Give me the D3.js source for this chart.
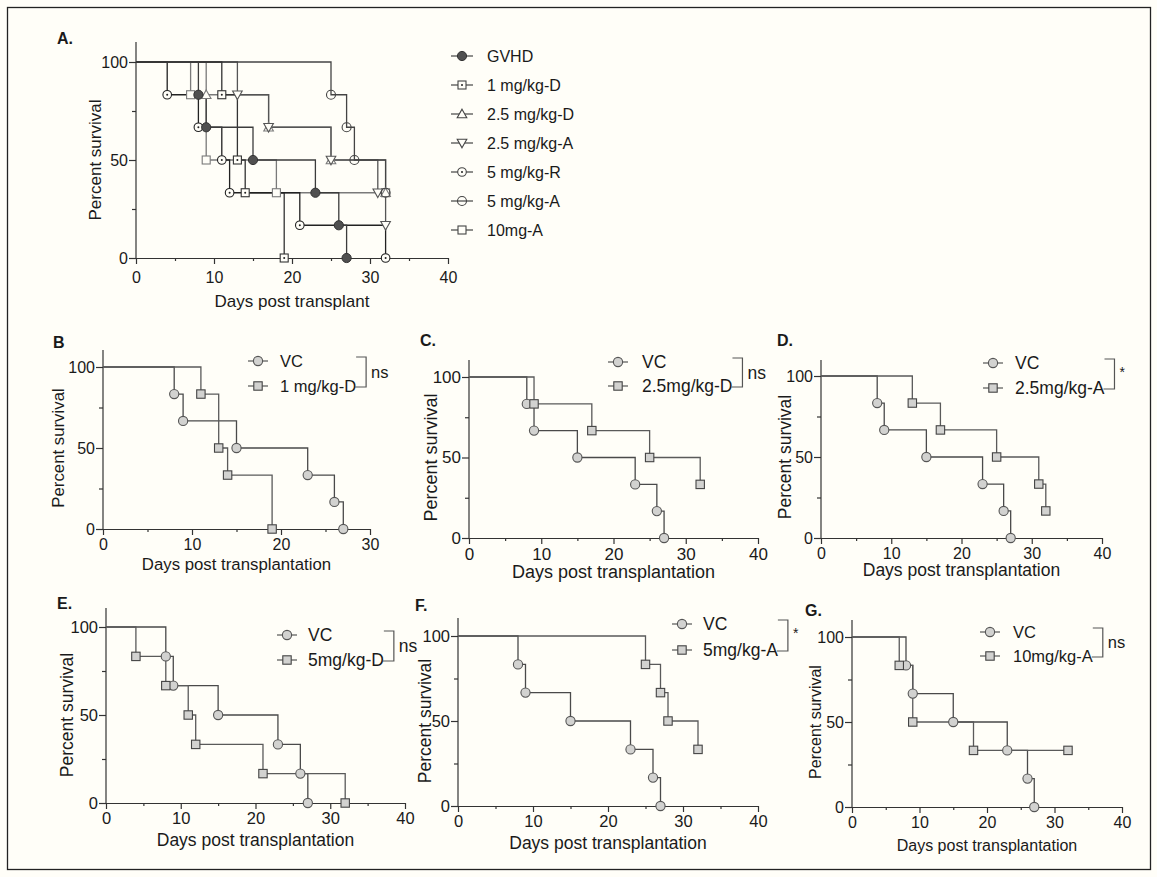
<!DOCTYPE html>
<html><head><meta charset="utf-8">
<script src="https://cdn.jsdelivr.net/npm/d3@7"></script>
<style>
html,body{margin:0;padding:0;background:#fffef8;}
svg{display:block;}
text{font-family:"Liberation Sans",Arial,sans-serif;fill:#1a1a1a;}
</style></head><body>
<svg id="fig" width="1157" height="877"></svg>
<script>
// Kaplan-Meier steps: day of each event and percent surviving after it
const vcDays  = [0, 8, 9, 15, 23, 26, 27];
const vcSurv  = [100, 83.3, 66.7, 50, 33.3, 16.7, 0];
const d1Days  = [0, 11, 13, 14, 19];
const d1Surv  = [100, 83.3, 50, 33.3, 0];
const d25Days = [0, 9, 17, 25, 32];
const d25Surv = [100, 83.3, 66.7, 50, 33.3];
const a25Days = [0, 13, 17, 25, 31, 32];
const a25Surv = [100, 83.3, 66.7, 50, 33.3, 16.7];
const d5Days  = [0, 4, 8, 11, 12, 21, 32];
const d5Surv  = [100, 83.3, 66.7, 50, 33.3, 16.7, 0];
const a5Days  = [0, 25, 27, 28, 32];
const a5Surv  = [100, 83.3, 66.7, 50, 33.3];
const a10Days = [0, 7, 9, 18, 32];
const a10Surv = [100, 83.3, 50, 33.3, 33.3];

// labels
const overviewNames = ["GVHD", "1 mg/kg-D", "2.5 mg/kg-D", "2.5 mg/kg-A", "5 mg/kg-R", "5 mg/kg-A", "10mg-A"];
const pairNames = ["1 mg/kg-D", "2.5mg/kg-D", "2.5mg/kg-A", "5mg/kg-D", "5mg/kg-A", "10mg/kg-A"];
const pairSig = ["ns", "ns", "*", "ns", "*", "ns"];
const panelLetters = ["A.", "B", "C.", "D.", "E.", "F.", "G."];
const yTicks = [0, 50, 100];
const yMinor = [25, 75];
const xTicks40 = [0, 10, 20, 30, 40];
const xTicks30 = [0, 10, 20, 30];
const xTitleA = "Days post transplant";
const xTitle = "Days post transplantation";
const yTitle = "Percent survival";

const zip = (days, surv) => days.map((d, i) => [d, surv[i]]);
const BG = "#fffef8";
const svg = d3.select("#fig");

svg.append("rect").attr("x", 7.5).attr("y", 7.5).attr("width", 1143).attr("height", 862)
  .attr("fill", "none").attr("stroke", "#222").attr("stroke-width", 1.3);

function symbol(g, type, cx, cy, col) {
  const s = 4;
  if (type === "dot") {
    g.append("circle").attr("cx", cx).attr("cy", cy).attr("r", 4.6).attr("fill", "#505050").attr("stroke", "#333").attr("stroke-width", 1);
  } else if (type === "sqDot" || type === "sqOpen") {
    g.append("rect").attr("x", cx - s).attr("y", cy - s).attr("width", 2 * s).attr("height", 2 * s)
      .attr("fill", BG).attr("stroke", col).attr("stroke-width", 1.1);
    if (type === "sqDot") g.append("circle").attr("cx", cx).attr("cy", cy).attr("r", 1).attr("fill", "#222");
  } else if (type === "triUp") {
    g.append("path").attr("d", `M${cx},${cy - 4.8}L${cx + 4.8},${cy + 3.8}L${cx - 4.8},${cy + 3.8}Z`)
      .attr("fill", BG).attr("stroke", col).attr("stroke-width", 1.1);
  } else if (type === "triDown") {
    g.append("path").attr("d", `M${cx},${cy + 4.8}L${cx + 4.8},${cy - 3.8}L${cx - 4.8},${cy - 3.8}Z`)
      .attr("fill", BG).attr("stroke", col).attr("stroke-width", 1.1);
  } else if (type === "cirDot") {
    g.append("circle").attr("cx", cx).attr("cy", cy).attr("r", 4.3).attr("fill", BG).attr("stroke", col).attr("stroke-width", 1.1);
    g.append("circle").attr("cx", cx).attr("cy", cy).attr("r", 1).attr("fill", "#222");
  } else if (type === "cirOpen") {
    g.append("circle").attr("cx", cx).attr("cy", cy).attr("r", 4.5).attr("fill", "none").attr("stroke", col).attr("stroke-width", 1.1);
  } else if (type === "cirGrey") {
    g.append("circle").attr("cx", cx).attr("cy", cy).attr("r", 4.6).attr("fill", "#d2d2d0").attr("stroke", "#555").attr("stroke-width", 1.1);
  } else if (type === "sqGrey") {
    g.append("rect").attr("x", cx - 4.2).attr("y", cy - 4.2).attr("width", 8.4).attr("height", 8.4)
      .attr("fill", "#d2d2d0").attr("stroke", "#444").attr("stroke-width", 1.1);
  }
}

function panel(c) {
  const x = d3.scaleLinear().domain([0, c.xMax]).range([c.x0, c.x1]);
  const y = d3.scaleLinear().domain([0, 100]).range([c.y0, c.y100]);
  const g = svg.append("g");
  const style = sel => {
    sel.selectAll("line,path").attr("stroke", "#333").attr("stroke-width", 1.2);
    sel.selectAll("text").attr("font-size", c.tickFs).attr("font-family", '"Liberation Sans",Arial,sans-serif').attr("fill", "#1a1a1a");
  };
  // y axis
  const ya = g.append("g").attr("transform", `translate(${c.x0},0)`)
    .call(d3.axisLeft(y).tickValues(yTicks).tickSize(7).tickPadding(1).tickFormat(d3.format("d")));
  ya.select(".domain").remove();
  style(ya);
  const ym = g.append("g").attr("transform", `translate(${c.x0},0)`)
    .call(d3.axisLeft(y).tickValues(yMinor).tickSize(4).tickFormat(""));
  ym.select(".domain").remove();
  style(ym);
  g.append("line").attr("x1", c.x0).attr("x2", c.x0).attr("y1", y(0)).attr("y2", y(100) - c.ext)
    .attr("stroke", "#333").attr("stroke-width", 1.2);
  // x axis
  const xa = g.append("g").attr("transform", `translate(0,${c.y0})`)
    .call(d3.axisBottom(x).tickValues(c.xMax === 30 ? xTicks30 : xTicks40).tickSize(6).tickSizeOuter(0).tickPadding(c.xPad).tickFormat(d3.format("d")));
  style(xa);
  const minors = d3.range(5, c.xMax, 10);
  const xm = g.append("g").attr("transform", `translate(0,${c.y0})`)
    .call(d3.axisBottom(x).tickValues(minors).tickSize(3).tickFormat(""));
  xm.select(".domain").remove();
  style(xm);
  // titles
  g.append("text").attr("x", (c.x0 + c.x1) / 2).attr("y", c.y0 + c.xTitleOff).attr("dy", "0.35em")
    .attr("text-anchor", "middle").attr("font-size", c.titleFs).text(c.xTitle);
  g.append("text").attr("transform", `translate(${c.x0 - c.yTitleOff},${y(50)}) rotate(-90)`).attr("dy", "0.35em")
    .attr("text-anchor", "middle").attr("font-size", c.titleFs).text(yTitle);
  g.append("text").attr("x", c.lx).attr("y", c.ly).attr("dy", "0.35em").attr("font-weight", "bold")
    .attr("font-size", 16).text(c.letter);
  // curves
  const line = d3.line().x(d => x(d[0])).y(d => y(d[1])).curve(d3.curveStepAfter);
  c.series.forEach(s => {
    g.append("path").attr("d", line(s.pts)).attr("fill", "none").attr("stroke", s.col).attr("stroke-width", 1.3);
  });
  c.series.forEach(s => {
    s.pts.slice(1).forEach(p => symbol(g, s.sym, x(p[0]), y(p[1]), s.col));
  });
  return g;
}

// ---- Panel A: all groups ----
const overview = [
  {pts: zip(a10Days, a10Surv), sym: "sqOpen", col: "#7a7a7a"},
  {pts: zip(d25Days, d25Surv), sym: "triUp", col: "#7a7a7a"},
  {pts: zip(a25Days, a25Surv), sym: "triDown", col: "#555"},
  {pts: zip(a5Days, a5Surv), sym: "cirOpen", col: "#444"},
  {pts: zip(d1Days, d1Surv), sym: "sqDot", col: "#333"},
  {pts: zip(d5Days, d5Surv), sym: "cirDot", col: "#222"},
  {pts: zip(vcDays, vcSurv), sym: "dot", col: "#3c3c3c"}
];
panel({x0: 136, x1: 448, xMax: 40, y0: 258, y100: 62, ext: 20, tickFs: 16, titleFs: 17, xPad: 8,
  xTitleOff: 43, yTitleOff: 41, xTitle: xTitleA, letter: panelLetters[0], lx: 57, ly: 38, series: overview});

// legend for A
const legSyms = ["dot", "sqDot", "triUp", "triDown", "cirDot", "cirOpen", "sqOpen"];
const legA = svg.append("g");
overviewNames.forEach((n, i) => {
  const cy = 56 + i * 29, cx = 462;
  legA.append("line").attr("x1", cx - 11).attr("x2", cx + 11).attr("y1", cy).attr("y2", cy).attr("stroke", "#444").attr("stroke-width", 1.2);
  symbol(legA, legSyms[i], cx, cy, "#444");
  legA.append("text").attr("x", 487).attr("y", cy).attr("dy", "0.35em").attr("font-size", 16).text(n);
});

// ---- Panels B-G: vehicle control vs one treatment ----
const pairData = [
  zip(d1Days, d1Surv), zip(d25Days, d25Surv), zip(a25Days, a25Surv),
  zip(d5Days, d5Surv), zip(a5Days, a5Surv), zip(a10Days, a10Surv)
];
const layouts = [
  {x0: 103, x1: 370, xMax: 30, y0: 529, y100: 367, ext: 17, tickFs: 16, titleFs: 16.8, xTitleOff: 35, yTitleOff: 45, lx: 53, ly: 342,
    cx: 258, r1: 361, r2: 386, tx: 280, lfs: 16.5},
  {x0: 469, x1: 758, xMax: 40, y0: 538, y100: 377, ext: 17, tickFs: 17, titleFs: 18, xTitleOff: 34, yTitleOff: 38, lx: 420, ly: 340,
    cx: 618, r1: 362, r2: 386, tx: 642, lfs: 17.5},
  {x0: 821, x1: 1102, xMax: 40, y0: 538, y100: 376, ext: 16, tickFs: 16, titleFs: 17.5, xTitleOff: 32, yTitleOff: 36, lx: 777, ly: 340,
    cx: 993, r1: 363, r2: 388, tx: 1015, lfs: 17.5},
  {x0: 106, x1: 405, xMax: 40, y0: 803, y100: 627, ext: 19, tickFs: 16.5, titleFs: 17.5, xTitleOff: 37, yTitleOff: 39, lx: 57, ly: 603,
    cx: 287, r1: 635, r2: 660, tx: 308, lfs: 17.5},
  {x0: 458, x1: 758, xMax: 40, y0: 806, y100: 636, ext: 18, tickFs: 16.5, titleFs: 17.5, xTitleOff: 37, yTitleOff: 33, lx: 415, ly: 605,
    cx: 682, r1: 624, r2: 650, tx: 703, lfs: 17.5},
  {x0: 852, x1: 1122, xMax: 40, y0: 807, y100: 637, ext: 17, tickFs: 16, titleFs: 16, xTitleOff: 38, yTitleOff: 37, lx: 805, ly: 610,
    cx: 990, r1: 632, r2: 656, tx: 1013, lfs: 16.5}
];

layouts.forEach((L, k) => {
  const g = panel(Object.assign({}, L, {xPad: 3.5, xTitle: xTitle, letter: panelLetters[k + 1],
    series: [
      {pts: zip(vcDays, vcSurv), sym: "cirGrey", col: "#4a4a4a"},
      {pts: pairData[k], sym: "sqGrey", col: "#5a5a5a"}
    ]}));
  // legend
  [["VC", "cirGrey", L.r1], [pairNames[k], "sqGrey", L.r2]].forEach(([n, s, cy]) => {
    g.append("line").attr("x1", L.cx - 10).attr("x2", L.cx + 10).attr("y1", cy).attr("y2", cy).attr("stroke", "#555").attr("stroke-width", 1.2);
    symbol(g, s, L.cx, cy, "#555");
  });
  g.append("text").attr("x", L.tx).attr("y", L.r1).attr("dy", "0.35em").attr("font-size", L.lfs).text("VC");
  const t2 = g.append("text").attr("x", L.tx).attr("y", L.r2).attr("dy", "0.35em").attr("font-size", L.lfs).text(pairNames[k]);
  const end = L.tx + t2.node().getComputedTextLength();
  const bx = end + 10, top = L.r1 - 4, bot = L.r2 + 1;
  g.append("path").attr("d", `M${end},${top}H${bx}V${bot}H${end - 1}`).attr("fill", "none").attr("stroke", "#555").attr("stroke-width", 1.2);
  const star = pairSig[k] === "*";
  g.append("text").attr("x", bx + 5).attr("y", (top + bot) / 2 + (star ? -2 : 0)).attr("dy", "0.35em")
    .attr("font-size", star ? 14 : L.lfs).text(pairSig[k]);
});
</script>
</body></html>
